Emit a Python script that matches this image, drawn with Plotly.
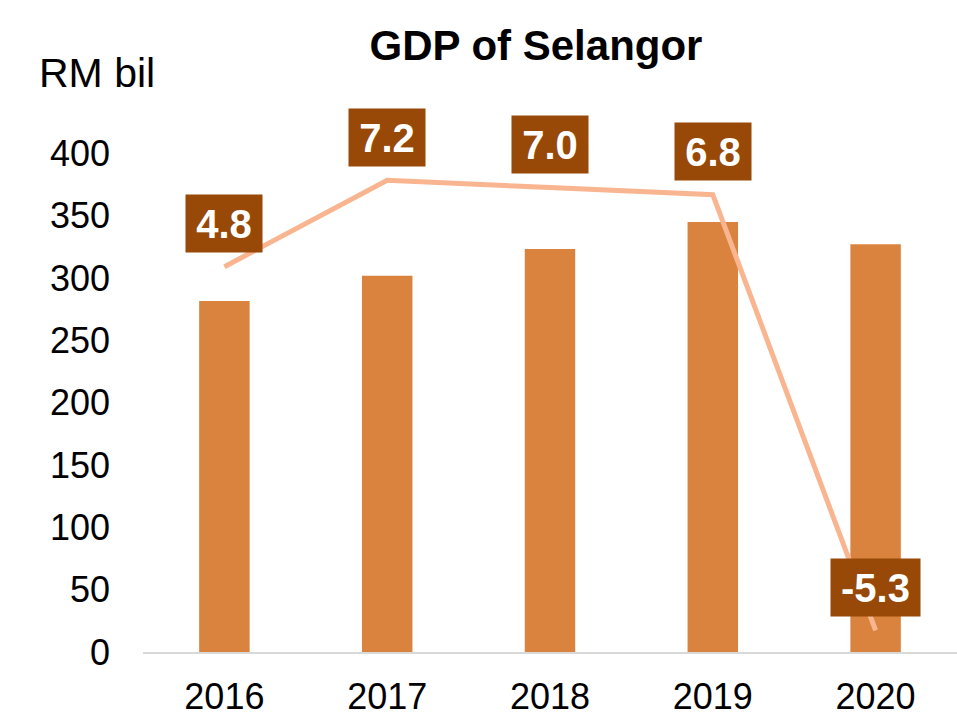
import plotly.graph_objects as go

years = ["2016", "2017", "2018", "2019", "2020"]
gdp = [281.6, 301.8, 323.2, 345.0, 327.0]
growth = [4.8, 7.2, 7.0, 6.8, -5.3]
growth_labels = ["4.8", "7.2", "7.0", "6.8", "-5.3"]

BAR = "#DA833E"
LINE = "#F8B590"
BOX = "#984807"
FONT = "Liberation Sans, Arial, sans-serif"

W, H = 957, 716
L, R, T, B = 143, 0, 91, 64
PW, PH = W - L - R, H - T - B

fig = go.Figure()
fig.add_trace(go.Bar(x=years, y=gdp, marker=dict(color=BAR, line=dict(width=0)),
                     hoverinfo="skip"))
fig.add_trace(go.Scatter(x=years, y=growth, mode="lines", yaxis="y2",
                         line=dict(color=LINE, width=5), hoverinfo="skip"))

for i, (g, lab) in enumerate(zip(growth, growth_labels)):
    w = 89 if lab.startswith("-") else 76
    fig.add_annotation(x=i, y=g, xref="x", yref="y2", text="<b>%s</b>" % lab,
                       showarrow=False, yshift=43, bgcolor=BOX,
                       font=dict(color="white", size=40, family=FONT),
                       width=w, height=57, borderpad=0, xanchor="center",
                       yanchor="middle", align="center", valign="middle")

fig.add_annotation(text="RM bil", x=(97 - L) / PW, y=(H - B - 73) / PH,
                   xref="paper", yref="paper",
                   showarrow=False, xanchor="center", yanchor="middle",
                   font=dict(size=41, color="black", family=FONT))

fig.update_layout(
    width=W, height=H,
    margin=dict(l=L, r=R, t=T, b=B, autoexpand=False),
    paper_bgcolor="white", plot_bgcolor="white",
    showlegend=False,
    bargap=0.69,
    title=dict(text="<b>GDP of Selangor</b>", x=536 / W, xref="container", xanchor="center",
               y=1 - 45 / H, yref="container", yanchor="middle",
               font=dict(size=42, color="black", family=FONT)),
    xaxis=dict(type="category", range=[-0.5, 4.5], autorange=False, automargin=False,
               showgrid=False, showline=True, linecolor="#D9D9D9",
               linewidth=2, ticks="", ticklabelstandoff=12,
               tickfont=dict(size=36, color="black", family=FONT)),
    yaxis=dict(range=[0, 450], autorange=False, automargin=False,
               tickvals=[0, 50, 100, 150, 200, 250, 300, 350, 400],
               showgrid=False, zeroline=False, showline=False, ticks="",
               ticklabelstandoff=32,
               tickfont=dict(size=36, color="black", family=FONT)),
    yaxis2=dict(range=[-5.9, 9.68], autorange=False, overlaying="y", side="right",
                visible=False, showgrid=False, zeroline=False),
)

fig.write_html("out.html", config={"displayModeBar": False},
               post_script="document.body.style.margin='0';document.body.style.overflow='hidden';")
